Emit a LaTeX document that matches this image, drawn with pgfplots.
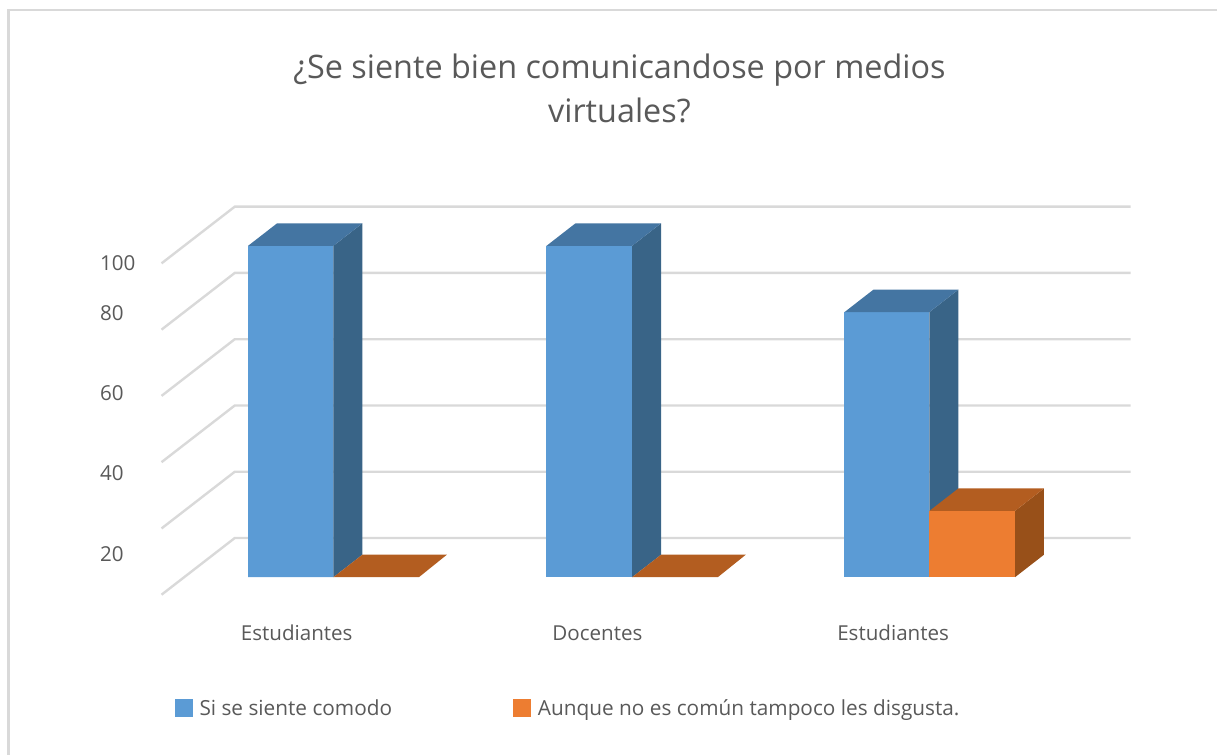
\documentclass[border=0pt]{standalone}
\usepackage{pgfplots}
\pgfplotsset{compat=1.18}
\usepackage{fontspec}
\setmainfont{Open Sans}
\definecolor{txt}{HTML}{595959}
\definecolor{gridc}{HTML}{D9D9D9}
\definecolor{bfront}{HTML}{5B9BD5}
\definecolor{btop}{HTML}{4475A2}
\definecolor{bside}{HTML}{396487}
\definecolor{ofront}{HTML}{ED7D31}
\definecolor{otop}{HTML}{B35D20}
\definecolor{oside}{HTML}{985019}
\begin{document}
\begin{tikzpicture}[x=1pt,y=1pt]
\begin{axis}[
  scale only axis, width=970pt, height=389pt,
  at={(161.7pt,160pt)}, anchor=south west,
  xmin=161.7, xmax=1131.7, ymin=-5.28, ymax=112,
  clip=false,
  axis line style={draw=none},
  major tick length=0pt,
  xtick={297,598,894},
  xticklabels={Estudiantes,Docentes,Estudiantes},
  ytick={7.7,32.1,56.3,80.4,95.5},
  yticklabels={20,40,60,80,100},
  yticklabel style={anchor=west,xshift=-65pt,yshift=-2pt,font=\fontsize{20.6}{22}\selectfont,text=txt},
  xticklabel style={yshift=-27pt,text height=15pt,text depth=0pt,font=\fontsize{20.6}{22}\selectfont,text=txt},
  /pgf/number format/assume math mode=true,
  legend columns=2,
  legend style={at={(axis cs:172,-39.5)},anchor=west,draw=none,fill=none,
    font=\fontsize{20.8}{22}\selectfont,text=txt,
    /tikz/every even column/.style={column sep=119.5pt}},
  legend image code/.code={\path[#1,draw=none] (0pt,-9pt) rectangle (17.5pt,9pt);\path (22.5pt,0pt);},
]
% page and frame
\addplot[draw=none,forget plot] coordinates {(0,-53.54)(1218,-53.54)(1218,174.2)(0,174.2)(0,-53.54)};
\addplot[draw=gridc,line width=2.4pt,forget plot] coordinates {(8.5,-53.54)(8.5,171.2)(1218,171.2)};
% gridlines
\addplot[gridc,line width=2.4pt,forget plot] coordinates {(161.7,-5.28)(235,11.83)(1131.7,11.83)};
\addplot[gridc,line width=2.4pt,forget plot] coordinates {(161.7,14.72)(235,31.83)(1131.7,31.83)};
\addplot[gridc,line width=2.4pt,forget plot] coordinates {(161.7,34.72)(235,51.83)(1131.7,51.83)};
\addplot[gridc,line width=2.4pt,forget plot] coordinates {(161.7,54.72)(235,71.83)(1131.7,71.83)};
\addplot[gridc,line width=2.4pt,forget plot] coordinates {(161.7,74.72)(235,91.83)(1131.7,91.83)};
\addplot[gridc,line width=2.4pt,forget plot] coordinates {(161.7,94.72)(235,111.83)(1131.7,111.83)};
% blue series: 100, 100, 80
\addplot[fill=bfront,draw=none] coordinates {(248.3,0)(333.7,0)(333.7,100)(248.3,100)} \closedcycle;
\addlegendentry{Si se siente comodo}
\addplot[fill=bside,draw=none,forget plot] coordinates {(333.7,0)(362.7,6.79)(362.7,106.79)(333.7,100)};
\addplot[fill=btop,draw=none,forget plot] coordinates {(248.3,100)(333.7,100)(362.7,106.79)(277.3,106.79)};
\addplot[fill=bfront,draw=none,forget plot] coordinates {(547,0)(632.7,0)(632.7,100)(547,100)};
\addplot[fill=bside,draw=none,forget plot] coordinates {(632.7,0)(661.7,6.79)(661.7,106.79)(632.7,100)};
\addplot[fill=btop,draw=none,forget plot] coordinates {(547,100)(632.7,100)(661.7,106.79)(576,106.79)};
\addplot[fill=bfront,draw=none,forget plot] coordinates {(845.3,0)(930.3,0)(930.3,80)(845.3,80)};
\addplot[fill=bside,draw=none,forget plot] coordinates {(930.3,0)(959.3,6.79)(959.3,86.79)(930.3,80)};
\addplot[fill=btop,draw=none,forget plot] coordinates {(845.3,80)(930.3,80)(959.3,86.79)(874.3,86.79)};
% orange series: 0, 0, 20
\addplot[fill=ofront,draw=none] coordinates {(930.3,0)(1016,0)(1016,20)(930.3,20)};
\addlegendentry{Aunque no es común tampoco les disgusta.}
\addplot[fill=oside,draw=none,forget plot] coordinates {(1016,0)(1045,6.79)(1045,26.79)(1016,20)};
\addplot[fill=otop,draw=none,forget plot] coordinates {(930.3,20)(1016,20)(1045,26.79)(959.3,26.79)};
\addplot[fill=otop,draw=none,forget plot] coordinates {(333.7,0)(419.3,0)(447.3,6.79)(362.7,6.79)};
\addplot[fill=otop,draw=none,forget plot] coordinates {(632.7,0)(718.5,0)(746.5,6.79)(661.7,6.79)};
% title
\node[text=txt,align=center,font=\fontsize{32.4}{44}\selectfont] at (axis cs:620,147.5) {¿Se siente bien comunicandose por medios\\virtuales?};
\end{axis}
\end{tikzpicture}
\end{document}
